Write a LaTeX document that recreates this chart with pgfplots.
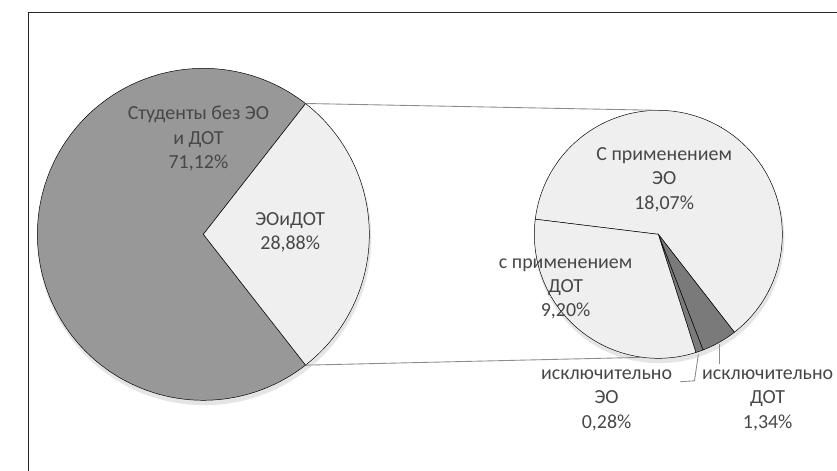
\documentclass[border=0pt]{standalone}
\usepackage{fontspec}
\setmainfont{Carlito}
\usepackage{pgfplots}
\pgfplotsset{compat=1.18}

\definecolor{darkslice}{HTML}{989898}
\definecolor{lightslice}{HTML}{EFEFEF}
\definecolor{thinslice}{HTML}{7A7A7A}
\definecolor{labeltext}{HTML}{474747}
\definecolor{connector}{HTML}{8C8C8C}

% data (percent of all students)
\def\vNone{71.12}  % Студенты без ЭО и ДОТ
\def\vBoth{28.88}  % ЭОиДОТ
\def\vEO{18.07}    % С применением ЭО
\def\vDOTx{1.34}   % исключительно ДОТ
\def\vEOx{0.28}    % исключительно ЭО
\def\vDOT{9.20}    % с применением ДОТ

\tikzset{lbl/.style={text=labeltext, align=center, font=\fontsize{20.5}{25}\selectfont, inner sep=0pt}}

\begin{document}
\pgfmathsetmacro\bHalf{360*\vBoth/(\vBoth+\vNone)/2}
\pgfmathsetmacro\bEnd{360-\bHalf}
\pgfmathsetmacro\bLow{-\bHalf}
\pgfmathsetmacro\sumS{\vEO+\vDOTx+\vEOx+\vDOT}
\pgfmathsetmacro\sStart{173}
\pgfmathsetmacro\sA{\sStart-360*\vEO/\sumS}
\pgfmathsetmacro\sB{\sA-360*\vDOTx/\sumS}
\pgfmathsetmacro\sC{\sB-360*\vEOx/\sumS}
\pgfmathsetmacro\sD{\sC-360*\vDOT/\sumS}
\begin{tikzpicture}
\begin{axis}[
  name=ax,
  width=837bp, height=482bp, scale only axis,
  xmin=0, xmax=837, ymin=0, ymax=482,
  xtick=\empty, ytick=\empty,
  hide axis, clip=false,
]
% frame
\draw[black!85, line width=1.1pt] (axis cs:9,0) |- (axis cs:837,469);
% shadows
\fill[black, opacity=0.10] (axis cs:189,238) circle[radius=171];
\fill[black, opacity=0.10] (axis cs:655,238) circle[radius=128];
% main pie
\addplot[fill=darkslice, draw=black, line width=0.5pt, domain=\bHalf:\bEnd, samples=150, variable=\t]
  ({188+170*cos(\t)},{242+170*sin(\t)}) -- (axis cs:188,242) -- cycle;
\addplot[fill=lightslice, draw=black, line width=0.5pt, domain=\bLow:\bHalf, samples=80, variable=\t]
  ({188+170*cos(\t)},{242+170*sin(\t)}) -- (axis cs:188,242) -- cycle;
% second pie
\addplot[fill=lightslice, draw=black, line width=0.5pt, domain=\sA:\sStart, samples=120, variable=\t]
  ({654+127*cos(\t)},{242+127*sin(\t)}) -- (axis cs:654,242) -- cycle;
\addplot[fill=thinslice, draw=black, line width=0.5pt, domain=\sB:\sA, samples=12, variable=\t]
  ({654+127*cos(\t)},{242+127*sin(\t)}) -- (axis cs:654,242) -- cycle;
\addplot[fill=thinslice, draw=black, line width=0.5pt, domain=\sC:\sB, samples=4, variable=\t]
  ({654+127*cos(\t)},{242+127*sin(\t)}) -- (axis cs:654,242) -- cycle;
\addplot[fill=lightslice, draw=black, line width=0.5pt, domain=\sD:\sC, samples=80, variable=\t]
  ({654+127*cos(\t)},{242+127*sin(\t)}) -- (axis cs:654,242) -- cycle;
% connector lines
\draw[connector, line width=0.9pt] (axis cs:293,376) -- (axis cs:654,369);
\draw[connector, line width=0.9pt] (axis cs:293,108) -- (axis cs:638,116);
% leader lines
\draw[connector, line width=0.9pt] (axis cs:695,119) -- (axis cs:691,92) -- (axis cs:676,91);
\draw[connector, line width=0.9pt] (axis cs:717,130) -- (axis cs:717,109);
% labels
\node[lbl] at (axis cs:183,340) {Студенты без ЭО\\и ДОТ\\71,12\%};
\node[lbl] at (axis cs:277,244) {ЭОиДОТ\\28,88\%};
\node[lbl] at (axis cs:660,298) {С применением\\ЭО\\18,07\%};
\node[lbl] at (axis cs:559,186) {с применением\\ДОТ\\9,20\%};
\node[lbl] at (axis cs:601,72) {исключительно\\ЭО\\0,28\%};
\node[lbl] at (axis cs:766,72) {исключительно\\ДОТ\\1,34\%};
\end{axis}
\pgfresetboundingbox
\path (ax.south west) rectangle (ax.north east);
\end{tikzpicture}
\end{document}
